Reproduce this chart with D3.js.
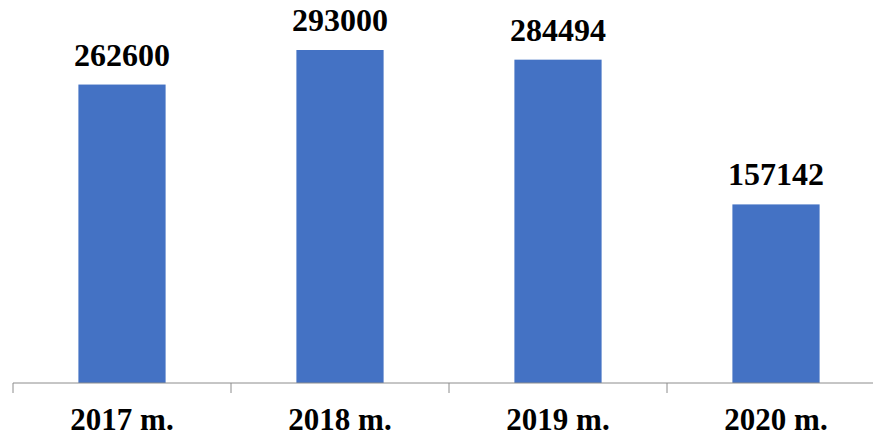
<!DOCTYPE html>
<html>
  <head>
    <meta charset="utf-8">
    <title>Bar chart</title>
    <style>
      body { margin: 0; background: #fff; }
      svg { display: block; }
      .lbl { font-family: "Liberation Serif", "Times New Roman", serif; font-weight: bold; }
    </style>
    <script src="https://d3js.org/d3.v7.min.js"></script>
  </head>
  <body>
    <svg></svg>
    <script>
      var width = 873;
      var height = 437;

      // data
      var years = ["2017 m.", "2018 m.", "2019 m.", "2020 m."];
      var values = [262600, 293000, 284494, 157142];

      var baseY = 383;
      var svg = d3.select("svg")
          .attr("width", width)
          .attr("height", height);

      var x = d3.scaleBand()
          .domain(years)
          .range([13, 885])
          .paddingInner(0.6)
          .paddingOuter(0.3);

      var y = d3.scaleLinear()
          .domain([0, 293000])
          .range([baseY, 50]);

      svg.selectAll("rect.bar")
        .data(values)
        .enter()
        .append("rect")
        .attr("class", "bar")
        .attr("x", function(d, i) { return x(years[i]); })
        .attr("width", x.bandwidth())
        .attr("y", function(d) { return y(d); })
        .attr("height", function(d) { return baseY - y(d); })
        .style("fill", "#4472C4");

      // value labels
      svg.selectAll("text.val")
        .data(values)
        .enter()
        .append("text")
        .attr("class", "lbl val")
        .attr("x", function(d, i) { return x(years[i]) + x.bandwidth() / 2; })
        .attr("y", function(d) { return y(d) - 19; })
        .attr("text-anchor", "middle")
        .style("font-size", "32px")
        .text(function(d) { return d; });

      // x axis
      var axis = d3.axisBottom(x).tickSize(0).tickPadding(0).tickFormat("");
      var g = svg.append("g")
          .attr("transform", "translate(0," + baseY + ")")
          .call(axis);
      g.select(".domain").attr("stroke", "#8c8c8c").attr("d", "M13,0H885");

      var bounds = [13].concat(years.map(function(c) { return x(c) - x.step() * x.paddingInner() / 2 + x.step(); }));
      g.selectAll("line.sep")
        .data(bounds)
        .enter()
        .append("line")
        .attr("class", "sep")
        .attr("x1", function(d) { return d; })
        .attr("x2", function(d) { return d; })
        .attr("y1", 0)
        .attr("y2", 10)
        .attr("stroke", "#8c8c8c");

      svg.selectAll("text.cat")
        .data(years)
        .enter()
        .append("text")
        .attr("class", "lbl cat")
        .attr("x", function(d) { return x(d) + x.bandwidth() / 2; })
        .attr("y", 430)
        .attr("text-anchor", "middle")
        .style("font-size", "31px")
        .text(function(d) { return d; });
    </script>
  </body>
</html>
